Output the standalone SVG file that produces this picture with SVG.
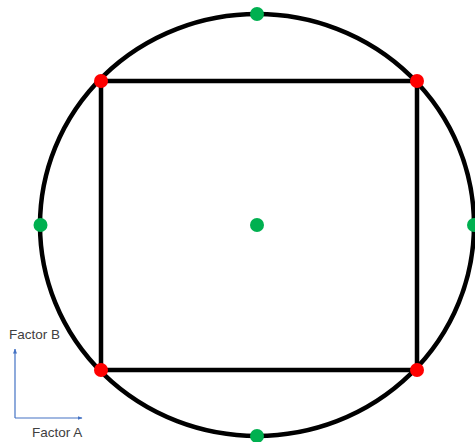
<svg xmlns="http://www.w3.org/2000/svg" width="475" height="442" viewBox="0 0 475 442">
<style>
.shape{fill:none;stroke:#000;stroke-width:4.5}
.g{fill:#00B050}
.r{fill:#FF0000}
.ax{stroke:#4472C4;stroke-width:1.2;fill:none}
.lbl{font-family:"Liberation Sans",Arial,sans-serif;font-size:13.5px;fill:#404040}
</style>
<defs>
<marker id="ah" viewBox="0 0 10 10" refX="9" refY="5" markerWidth="5" markerHeight="5" orient="auto" markerUnits="userSpaceOnUse">
<path d="M0,1 L10,5 L0,9 z" fill="#4472C4"/>
</marker>
</defs>
<rect width="475" height="442" fill="#fff"/>
<g id="circle"><ellipse class="shape" cx="257" cy="225" rx="217" ry="211"/></g>
<g id="square"><rect class="shape" x="101" y="81" width="316" height="289"/></g>
<g id="connectors">
<line class="ax" x1="15" y1="418" x2="15" y2="349" marker-end="url(#ah)"/>
<line class="ax" x1="15" y1="418" x2="82" y2="418" marker-end="url(#ah)"/>
</g>
<g id="points">
<circle class="g" cx="257" cy="14" r="7"/>
<circle class="g" cx="257" cy="436" r="7"/>
<circle class="g" cx="40.5" cy="225" r="7"/>
<circle class="g" cx="474" cy="225" r="7"/>
<circle class="g" cx="257" cy="225" r="7"/>
<circle class="r" cx="101" cy="81" r="7"/>
<circle class="r" cx="417" cy="81" r="7"/>
<circle class="r" cx="101" cy="370" r="7"/>
<circle class="r" cx="417" cy="370" r="7"/>
</g>
<g id="labels">
<text class="lbl" x="9" y="339">Factor B</text>
<text class="lbl" x="32" y="437">Factor A</text>
</g>
</svg>
